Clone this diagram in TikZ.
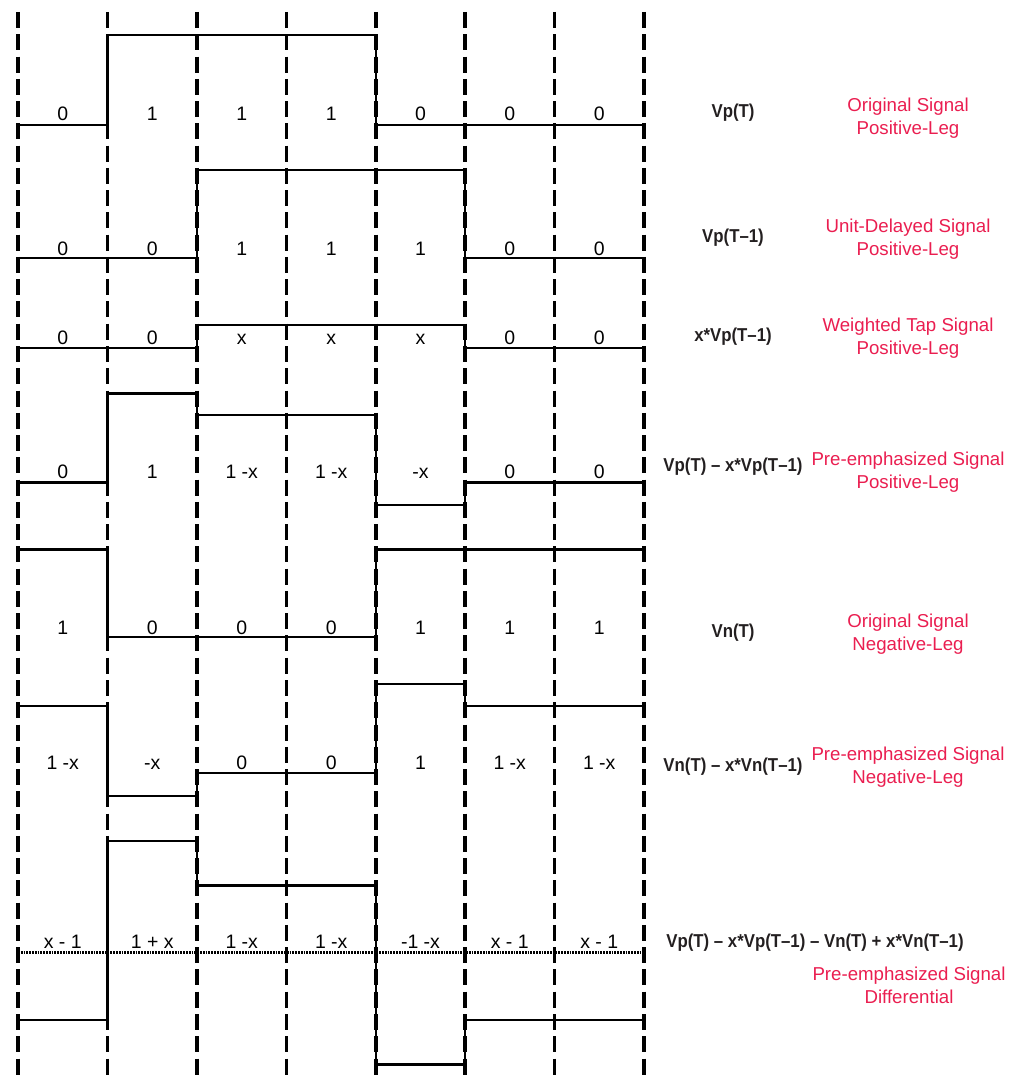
\documentclass[tikz,border=0pt]{standalone}
\usepackage{fontspec}
\setmainfont{Liberation Sans}
\newfontfamily\condbold[FakeStretch=0.9]{Liberation Sans Bold}
\definecolor{labred}{RGB}{234,30,80}
\definecolor{labdark}{RGB}{35,31,32}
\begin{document}
\begin{tikzpicture}[x=0.75pt,y=-0.75pt,
  grid/.style={line width=2.5pt,dash pattern=on 12pt off 4.7pt},
  sig/.style={line width=2.1pt,line join=miter},
  baseln/.style={line width=2.3pt,dash pattern=on 1.4pt off 0.7pt},
  num/.style={anchor=base,inner sep=0pt,font=\fontsize{14.6}{16}\selectfont},
  eq/.style={inner sep=0pt,text=labdark,font=\condbold\fontsize{14}{16}\selectfont},
  desc/.style={inner sep=0pt,align=center,text=labred,font=\fontsize{14}{17.3}\selectfont}]
\useasboundingbox (0,0) rectangle (1016,1091);
% column boundaries
\foreach \i/\x in {0/18,1/107.5,2/197,3/286.5,4/376,5/465,6/554.5,7/644}{
  \coordinate (t\i) at (\x,12);
  \coordinate (b\i) at (\x,1079);
  \draw[grid] (t\i) -- (b\i);
}
% Row 1: Vp(T)
\draw[sig] (18,125) -- (107.5,125) -- (107.5,35) -- (376,35) -- (376,125) -- (644,125);
% Row 2: Vp(T-1)
\draw[sig] (18,258) -- (197,258) -- (197,170) -- (465,170) -- (465,258) -- (644,258);
% Row 3: x*Vp(T-1)
\draw[sig] (18,348) -- (197,348) -- (197,325) -- (465,325) -- (465,348) -- (644,348);
% Row 4
\draw[sig] (18,482.5) -- (107.5,482.5) -- (107.5,393.5) -- (197,393.5) -- (197,415) -- (376,415) -- (376,505) -- (465,505) -- (465,482.5) -- (644,482.5);
% Row 5: Vn(T)
\draw[sig] (18,549.5) -- (107.5,549.5) -- (107.5,637) -- (376,637) -- (376,549.5) -- (644,549.5);
% Row 6
\draw[sig] (18,706) -- (107.5,706) -- (107.5,796) -- (197,796) -- (197,773) -- (376,773) -- (376,684) -- (465,684) -- (465,706) -- (644,706);
% Row 7: differential
\coordinate (zl) at (18,952.5);
\coordinate (zr) at (644,952.5);
\draw[baseln] (zl) -- (zr);
\draw[sig] (18,1020) -- (107.5,1020) -- (107.5,841) -- (197,841) -- (197,885.5) -- (376,885.5) -- (376,1064.5) -- (465,1064.5) -- (465,1020) -- (644,1020);
% numbers
\foreach \r/\y/\a/\b/\c/\d/\e/\f/\g in {
  1/121/0/1/1/1/0/0/0,
  2/255/0/0/1/1/1/0/0,
  3/344.5/0/0/x/x/x/0/0,
  4/478/0/1/1 -x/1 -x/-x/0/0,
  5/634.5/1/0/0/0/1/1/1,
  6/769.5/1 -x/-x/0/0/1/1 -x/1 -x,
  7/948/x - 1/1 + x/1 -x/1 -x/-1 -x/x - 1/x - 1}{
  \node[num] (n\r a) at (62.75,\y) {\a};
  \node[num] (n\r b) at (152.25,\y) {\b};
  \node[num] (n\r c) at (241.75,\y) {\c};
  \node[num] (n\r d) at (331.25,\y) {\d};
  \node[num] (n\r e) at (420.5,\y) {\e};
  \node[num] (n\r f) at (509.75,\y) {\f};
  \node[num] (n\r g) at (599.25,\y) {\g};
}
% formula labels
\node[eq] (f1) at (733,113) {Vp(T)};
\node[eq] (f2) at (733,238) {Vp(T–1)};
\node[eq] (f3) at (733,337) {x*Vp(T–1)};
\node[eq] (f4) at (733,467) {Vp(T) – x*Vp(T–1)};
\node[eq] (f5) at (733,633) {Vn(T)};
\node[eq] (f6) at (733,767) {Vn(T) – x*Vn(T–1)};
\node[eq] (f7) at (815,943) {Vp(T) – x*Vp(T–1) – Vn(T) + x*Vn(T–1)};
% descriptions
\node[desc] (d1) at (908,118) {Original Signal\\Positive-Leg};
\node[desc] (d2) at (908,239) {Unit-Delayed Signal\\Positive-Leg};
\node[desc] (d3) at (908,338) {Weighted Tap Signal\\Positive-Leg};
\node[desc] (d4) at (908,472) {Pre-emphasized Signal\\Positive-Leg};
\node[desc] (d5) at (908,634) {Original Signal\\Negative-Leg};
\node[desc] (d6) at (908,767) {Pre-emphasized Signal\\Negative-Leg};
\node[desc] (d7) at (909,985) {Pre-emphasized Signal\\Differential};
\end{tikzpicture}
\end{document}
